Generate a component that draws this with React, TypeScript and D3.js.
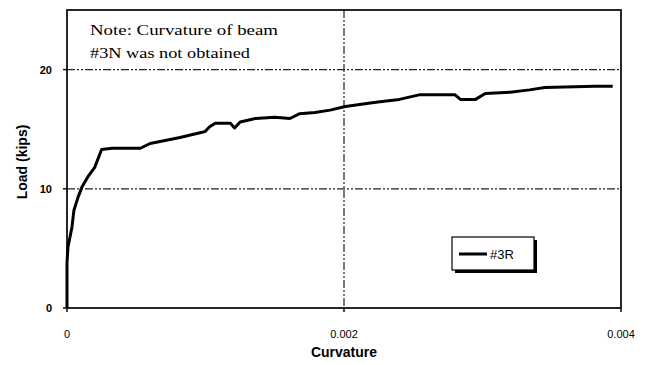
import React from "react";
import * as d3 from "d3";

const curvature = [0, 0, 0.000007, 0.000036, 0.00005, 0.00008, 0.00011, 0.00015, 0.0002, 0.00025, 0.000325, 0.00053, 0.0006, 0.000816, 0.00096, 0.000996, 0.00103, 0.00107, 0.00118, 0.00121, 0.00125, 0.00136, 0.0015, 0.00161, 0.00168, 0.00179, 0.0019, 0.00201, 0.00219, 0.00226, 0.0024, 0.00255, 0.0028, 0.00284, 0.00295, 0.00302, 0.0032, 0.00334, 0.00345, 0.00381, 0.00394];
const load = [0, 3.8, 5.1, 6.8, 8.2, 9.3, 10.2, 11.0, 11.8, 13.3, 13.4, 13.4, 13.8, 14.3, 14.7, 14.8, 15.2, 15.5, 15.5, 15.1, 15.6, 15.9, 16.0, 15.9, 16.3, 16.4, 16.6, 16.9, 17.2, 17.3, 17.5, 17.9, 17.9, 17.5, 17.5, 18.0, 18.1, 18.3, 18.5, 18.6, 18.6];
const xTicks = [0, 0.002, 0.004];
const xTickLabels = ["0", "0.002", "0.004"];
const yTicks = [0, 10, 20];
const yTickLabels = ["0", "10", "20"];
const seriesName = "#3R";
const noteLines = ["Note:  Curvature of beam", "#3N was not obtained"];

export default function App() {
  const W = 650, H = 365;
  const left = 67, right = 621, top = 10, bottom = 308;
  const x = d3.scaleLinear().domain([0, 0.004]).range([left, right]);
  const y = d3.scaleLinear().domain([0, 25]).range([bottom, top]);
  const pts = curvature.map((c, i) => [c, load[i]] as [number, number]);
  const line = d3.line<[number, number]>().x(d => x(d[0])).y(d => y(d[1]));
  const sans = "Liberation Sans, Arial, sans-serif";
  const serif = "Liberation Serif, Times New Roman, serif";
  return (
    <svg width={W} height={H} style={{ position: "absolute", left: 0, top: 0, background: "#fff" }}>
      <rect x={0} y={0} width={W} height={H} fill="#fff" />
      {/* gridlines */}
      {yTicks.filter(t => t > 0).map(t => (
        <line key={"gy" + t} x1={left} x2={right} y1={y(t)} y2={y(t)} stroke="#222" strokeWidth={1.2} strokeDasharray="8,2,2,2,2,2" />
      ))}
      {xTicks.filter(t => t > 0 && t < 0.004).map(t => (
        <line key={"gx" + t} x1={x(t)} x2={x(t)} y1={top} y2={bottom} stroke="#222" strokeWidth={1.2} strokeDasharray="8,2,2,2,2,2" />
      ))}
      {/* frame */}
      <rect x={left} y={top} width={right - left} height={bottom - top} fill="none" stroke="#111" strokeWidth={1.8} />
      {/* ticks */}
      {yTicks.map(t => (
        <line key={"ty" + t} x1={left - 4} x2={left} y1={y(t)} y2={y(t)} stroke="#111" strokeWidth={1.5} />
      ))}
      {xTicks.map(t => (
        <line key={"tx" + t} x1={x(t)} x2={x(t)} y1={bottom} y2={bottom + 4} stroke="#111" strokeWidth={1.5} />
      ))}
      {/* tick labels */}
      {yTicks.map((t, i) => (
        <text key={"ly" + t} x={left - 15} y={y(t) + 4} textAnchor="end" fontFamily={sans} fontSize={11} fontWeight="bold">{yTickLabels[i]}</text>
      ))}
      {xTicks.map((t, i) => (
        <text key={"lx" + t} x={x(t)} y={y(0) + 30} textAnchor="middle" fontFamily={sans} fontSize={11}>{xTickLabels[i]}</text>
      ))}
      {/* axis titles */}
      <text x={x(0.002)} y={357} textAnchor="middle" fontFamily={sans} fontSize={14} fontWeight="bold">Curvature</text>
      <text transform={`translate(27,${(top + bottom) / 2 + 3}) rotate(-90)`} textAnchor="middle" fontFamily={sans} fontSize={14} fontWeight="bold">Load (kips)</text>
      {/* note */}
      <text x={90} y={35} fontFamily={serif} fontSize={15} textLength={188} lengthAdjust="spacingAndGlyphs">{noteLines[0]}</text>
      <text x={90} y={58} fontFamily={serif} fontSize={15} textLength={160} lengthAdjust="spacingAndGlyphs">{noteLines[1]}</text>
      {/* curve */}
      <path d={line(pts) || ""} fill="none" stroke="#000" strokeWidth={3} strokeLinejoin="round" />
      {/* legend */}
      <rect x={455} y={240} width={82} height={33} fill="#000" />
      <rect x={452} y={237} width={82} height={33} fill="#fff" stroke="#000" strokeWidth={1.2} />
      <line x1={459} x2={487} y1={254} y2={254} stroke="#000" strokeWidth={3} />
      <text x={490} y={259} fontFamily={sans} fontSize={13}>{seriesName}</text>
    </svg>
  );
}
